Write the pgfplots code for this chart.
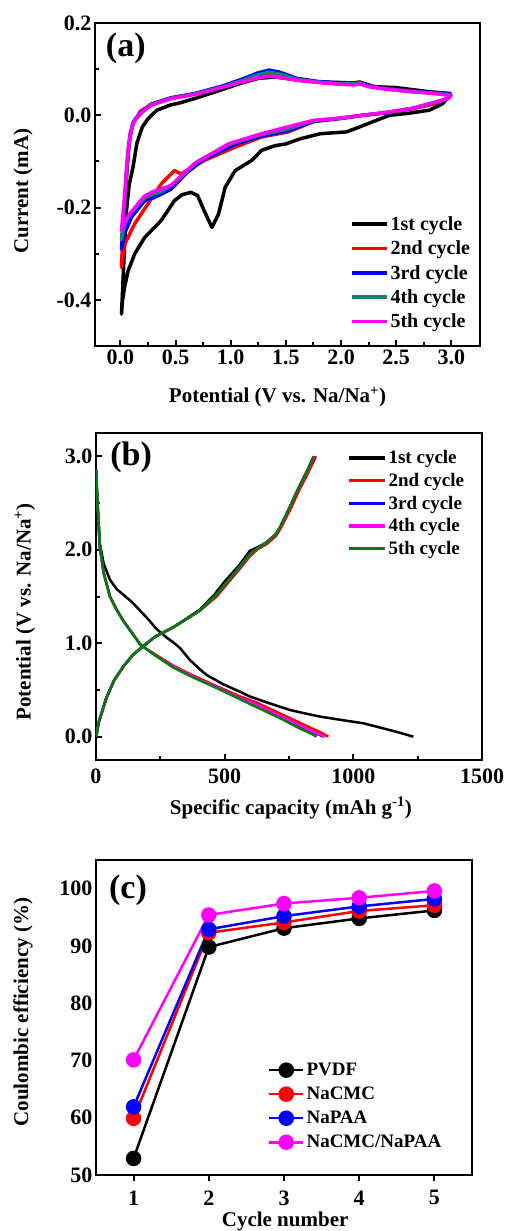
\documentclass[border=0pt]{standalone}
\usepackage{fontspec}
\setmainfont{Liberation Serif}
\usepackage{pgfplots}
\pgfplotsset{compat=1.18}

\definecolor{cteal}{RGB}{20,128,110}
\definecolor{cgreen}{RGB}{0,128,0}
\definecolor{cmag}{RGB}{255,0,255}

\pgfplotsset{
  common/.style={
    scale only axis,
    axis line style={line width=2.5pt},
    tick align=inside,
    tick pos=left,
    major tick length=6pt,
    minor tick length=4pt,
    every tick/.style={line width=2pt, black},
    /pgf/number format/assume math mode=true,
    tick label style={font=\bfseries\fontsize{22}{24}\selectfont},
    label style={font=\bfseries\fontsize{21}{24}\selectfont},
    legend cell align=left,
    legend style={draw=none, fill=none, font=\bfseries\fontsize{20}{22}\selectfont, inner sep=0pt},
  }
}

\begin{document}
\begin{tikzpicture}
\useasboundingbox (0,0) rectangle (505pt,-1231pt);

% ---------------- (a) ----------------
\begin{axis}[common,
  at={(95pt,-23pt)}, anchor=north west,
  width=385pt, height=323pt,
  xmin=-0.23, xmax=3.26, ymin=-0.5, ymax=0.2,
  xtick={0,0.5,...,3.0}, minor x tick num=1,
  ytick={-0.4,-0.2,0,0.2}, minor y tick num=1,
  xticklabel style={/pgf/number format/.cd, fixed, fixed zerofill, precision=1},
  yticklabel style={/pgf/number format/.cd, fixed, fixed zerofill, precision=1},
  xlabel={Potential (V vs. Na/Na\textsuperscript{+})},
  ylabel={Current (mA)},
  xlabel style={at={(axis description cs:0.474,-0.158)}, anchor=center},
  ylabel style={at={(axis description cs:-0.187,0.48)}, anchor=center},
  legend image code/.code={\draw[#1] (0pt,0pt) -- (35pt,0pt);},
  legend style={at={(rel axis cs:0.662,0.408)}, anchor=north west, row sep=5pt},
  every axis plot/.append style={line width=3.5pt, line join=round},
]
\addplot[black] coordinates {
(3.00,0.047) (2.92,0.025) (2.80,0.011) (2.60,0.004) (2.44,0.000) (2.32,-0.011)
(2.17,-0.025) (2.05,-0.036) (1.81,-0.040) (1.63,-0.051) (1.50,-0.062) (1.40,-0.066)
(1.28,-0.076) (1.19,-0.098) (1.04,-0.120) (0.95,-0.156) (0.89,-0.214) (0.83,-0.243)
(0.76,-0.207) (0.70,-0.174) (0.64,-0.167) (0.56,-0.172) (0.49,-0.185) (0.37,-0.228)
(0.22,-0.265) (0.13,-0.300) (0.07,-0.337) (0.04,-0.37) (0.02,-0.40) (0.01,-0.431)
(0.02,-0.38) (0.04,-0.27) (0.055,-0.207) (0.08,-0.15) (0.115,-0.112) (0.15,-0.06)
(0.20,-0.025) (0.25,-0.008) (0.33,0.011) (0.45,0.022) (0.54,0.027) (0.67,0.036)
(0.85,0.050) (0.975,0.060) (1.10,0.070) (1.25,0.080) (1.40,0.083) (1.50,0.080)
(1.65,0.075) (1.81,0.072) (2.00,0.071) (2.11,0.070) (2.17,0.072) (2.30,0.062)
(2.50,0.060) (2.80,0.051) (2.95,0.048) (3.00,0.047)};
\addlegendentry{1st cycle}
\addplot[red] coordinates {
(3.00,0.045) (2.95,0.035) (2.85,0.025) (2.65,0.014) (2.40,0.005) (2.20,0.000)
(2.00,-0.006) (1.75,-0.014) (1.52,-0.036) (1.28,-0.047) (1.04,-0.069) (0.76,-0.098)
(0.55,-0.127) (0.49,-0.120) (0.44,-0.132) (0.37,-0.149) (0.25,-0.192) (0.13,-0.235)
(0.04,-0.279) (0.01,-0.330)
(0.02,-0.27) (0.04,-0.20) (0.06,-0.12) (0.08,-0.06) (0.11,-0.02) (0.18,0.008)
(0.28,0.024) (0.45,0.037) (0.67,0.046) (0.92,0.061) (1.10,0.074) (1.25,0.085)
(1.35,0.090) (1.45,0.087) (1.60,0.078) (1.80,0.072) (2.00,0.069) (2.12,0.069)
(2.17,0.071) (2.25,0.064) (2.40,0.058) (2.65,0.052) (2.85,0.048) (3.00,0.045)};
\addlegendentry{2nd cycle}
\addplot[blue] coordinates {
(3.00,0.046) (2.96,0.036) (2.86,0.028) (2.65,0.015) (2.40,0.005) (2.20,0.000)
(2.00,-0.007) (1.75,-0.013) (1.52,-0.034) (1.28,-0.045) (1.04,-0.063) (0.76,-0.095)
(0.60,-0.125) (0.46,-0.160) (0.31,-0.178) (0.22,-0.185) (0.10,-0.221) (0.04,-0.255)
(0.01,-0.290)
(0.025,-0.24) (0.04,-0.19) (0.055,-0.13) (0.07,-0.08) (0.09,-0.04) (0.12,-0.013)
(0.19,0.007) (0.28,0.024) (0.46,0.038) (0.67,0.047) (0.92,0.063) (1.10,0.078)
(1.25,0.092) (1.35,0.098) (1.45,0.093) (1.60,0.080) (1.80,0.073) (2.00,0.070)
(2.12,0.070) (2.17,0.071) (2.25,0.064) (2.40,0.058) (2.65,0.052) (2.85,0.049) (3.00,0.046)};
\addlegendentry{3rd cycle}
\addplot[cteal] coordinates {
(3.00,0.044) (2.96,0.035) (2.86,0.028) (2.65,0.015) (2.40,0.006) (2.20,0.000)
(2.00,-0.006) (1.75,-0.012) (1.48,-0.032) (1.28,-0.042) (1.00,-0.062) (0.70,-0.100)
(0.50,-0.145) (0.38,-0.165) (0.28,-0.172) (0.22,-0.180) (0.12,-0.205) (0.06,-0.225)
(0.03,-0.245) (0.01,-0.270)
(0.025,-0.225) (0.04,-0.18) (0.055,-0.125) (0.07,-0.078) (0.09,-0.04) (0.12,-0.014)
(0.19,0.006) (0.28,0.023) (0.46,0.037) (0.67,0.046) (0.92,0.061) (1.10,0.075)
(1.25,0.088) (1.35,0.093) (1.45,0.089) (1.60,0.078) (1.80,0.072) (2.00,0.068)
(2.12,0.068) (2.17,0.070) (2.25,0.063) (2.40,0.057) (2.65,0.051) (2.85,0.048) (3.00,0.044)};
\addlegendentry{4th cycle}
\addplot[cmag] coordinates {
(3.00,0.042) (2.97,0.036) (2.86,0.029) (2.65,0.015) (2.40,0.006) (2.20,0.000)
(2.00,-0.006) (1.75,-0.011) (1.44,-0.030) (1.28,-0.040) (0.98,-0.062) (0.67,-0.105)
(0.46,-0.152) (0.37,-0.160) (0.30,-0.165) (0.22,-0.175) (0.15,-0.195) (0.08,-0.215)
(0.04,-0.230) (0.01,-0.250)
(0.025,-0.21) (0.04,-0.17) (0.055,-0.12) (0.07,-0.076) (0.09,-0.04) (0.12,-0.015)
(0.19,0.005) (0.28,0.022) (0.46,0.036) (0.67,0.045) (0.92,0.060) (1.10,0.072)
(1.25,0.081) (1.35,0.085) (1.45,0.082) (1.60,0.076) (1.80,0.071) (2.00,0.067)
(2.12,0.066) (2.17,0.068) (2.25,0.062) (2.40,0.057) (2.65,0.051) (2.85,0.047)
(2.95,0.044) (3.00,0.042)};
\addlegendentry{5th cycle}
\node[font=\bfseries\fontsize{34}{36}\selectfont] at (rel axis cs:0.08,0.923) {(a)};
\end{axis}

% ---------------- (b) ----------------
\begin{axis}[common,
  at={(96pt,-433pt)}, anchor=north west,
  width=386pt, height=327pt,
  xmin=0, xmax=1500, ymin=-0.25, ymax=3.25,
  xtick={0,500,1000,1500}, minor x tick num=1,
  ytick={0,1,2,3}, minor y tick num=1,
  xticklabel style={/pgf/number format/1000 sep={}, yshift=-5pt},
  yticklabel style={/pgf/number format/.cd, fixed, fixed zerofill, precision=1},
  xlabel={Specific capacity (mAh g\textsuperscript{-1})},
  ylabel={Potential (V vs. Na/Na\textsuperscript{+})},
  xlabel style={at={(axis description cs:0.505,-0.147)}, anchor=center},
  ylabel style={at={(axis description cs:-0.184,0.453)}, anchor=center},
  legend image code/.code={\draw[#1, line width=3.5pt] (0pt,0pt) -- (36pt,0pt);},
  legend style={at={(rel axis cs:0.65,0.953)}, anchor=north west, row sep=4pt, font=\bfseries\fontsize{19}{21}\selectfont},
  every axis plot/.append style={line width=2.5pt, line join=round},
]
\addplot[black] coordinates {
(0,2.86) (5,2.5) (15,2.07) (30,1.85) (54,1.68) (80,1.58) (106,1.52) (140,1.44)
(171,1.35) (205,1.25) (236,1.15) (275,1.06) (300,1.01) (326,0.95) (365,0.82)
(404,0.72) (430,0.66) (495,0.56) (560,0.48) (598,0.43) (660,0.37) (715,0.32)
(754,0.285) (810,0.25) (870,0.215) (950,0.18) (1039,0.143) (1100,0.10) (1170,0.05) (1233,0.0)};
\addlegendentry{1st cycle}
\addplot[black, forget plot] coordinates {
(0,0.0) (2,0.02) (10,0.15) (25,0.28) (41,0.42) (70,0.60) (106,0.75) (145,0.88)
(184,0.97) (230,1.07) (300,1.17) (404,1.36) (460,1.52) (500,1.66) (555,1.83)
(598,1.99) (630,2.03) (663,2.08) (700,2.17) (715,2.24) (754,2.46) (780,2.62)
(810,2.79) (850,3.0)};
\addplot[red] coordinates {
(0,2.86) (5,2.55) (15,2.03) (30,1.75) (54,1.50) (80,1.36) (106,1.24) (140,1.11)
(171,0.99) (200,0.93) (236,0.87) (300,0.76) (365,0.67) (469,0.54) (560,0.43)
(620,0.37) (690,0.28) (760,0.19) (830,0.10) (870,0.05) (903,0.0)};
\addlegendentry{2nd cycle}
\addplot[red, forget plot] coordinates {
(0,0.0) (2,0.02) (10,0.15) (25,0.28) (41,0.42) (70,0.60) (106,0.75) (145,0.88)
(184,0.97) (230,1.07) (300,1.17) (404,1.35) (469,1.50) (508,1.63) (560,1.80)
(598,1.93) (630,2.01) (663,2.06) (700,2.15) (720,2.24) (760,2.46) (790,2.64)
(820,2.80) (855,3.0)};
\addplot[blue] coordinates {
(0,2.86) (5,2.55) (15,2.03) (30,1.75) (54,1.50) (80,1.36) (106,1.24) (140,1.11)
(171,0.99) (200,0.93) (236,0.86) (300,0.75) (365,0.66) (469,0.53) (560,0.41)
(610,0.36) (675,0.27) (745,0.18) (810,0.09) (850,0.04) (885,0.0)};
\addlegendentry{3rd cycle}
\addplot[blue, forget plot] coordinates {
(0,0.0) (2,0.02) (10,0.15) (25,0.28) (41,0.42) (70,0.60) (106,0.75) (145,0.88)
(184,0.97) (230,1.07) (300,1.17) (404,1.35) (469,1.52) (508,1.65) (560,1.82)
(598,1.96) (630,2.02) (663,2.08) (700,2.17) (715,2.24) (754,2.46) (780,2.62)
(810,2.78) (848,3.0)};
\addplot[cmag] coordinates {
(0,2.86) (5,2.55) (15,2.03) (30,1.75) (54,1.50) (80,1.36) (106,1.24) (140,1.11)
(171,0.99) (200,0.93) (236,0.86) (300,0.75) (365,0.66) (469,0.53) (560,0.41)
(612,0.36) (678,0.27) (748,0.18) (815,0.09) (855,0.04) (890,0.0)};
\addlegendentry{4th cycle}
\addplot[cmag, forget plot] coordinates {
(0,0.0) (2,0.02) (10,0.15) (25,0.28) (41,0.42) (70,0.60) (106,0.75) (145,0.88)
(184,0.97) (230,1.07) (300,1.17) (404,1.35) (469,1.52) (508,1.65) (560,1.82)
(598,1.95) (630,2.02) (663,2.08) (700,2.17) (715,2.24) (754,2.46) (780,2.62)
(810,2.78) (847,3.0)};
\addplot[cgreen] coordinates {
(0,2.86) (5,2.55) (15,2.03) (30,1.75) (54,1.50) (80,1.36) (106,1.24) (140,1.11)
(171,0.99) (200,0.93) (236,0.86) (300,0.74) (365,0.65) (469,0.52) (560,0.40)
(598,0.35) (660,0.27) (728,0.18) (790,0.09) (830,0.04) (857,0.0)};
\addlegendentry{5th cycle}
\addplot[cgreen, forget plot] coordinates {
(0,0.0) (2,0.02) (10,0.15) (25,0.28) (41,0.42) (70,0.60) (106,0.75) (145,0.88)
(184,0.97) (230,1.07) (300,1.17) (404,1.35) (469,1.52) (508,1.65) (560,1.82)
(598,1.95) (630,2.02) (663,2.08) (700,2.17) (715,2.24) (754,2.46) (780,2.62)
(810,2.78) (845,3.0)};
\node[font=\bfseries\fontsize{34}{36}\selectfont] at (rel axis cs:0.091,0.927) {(b)};
\end{axis}

% ---------------- (c) ----------------
\begin{axis}[common,
  at={(96pt,-860pt)}, anchor=north west,
  width=376pt, height=315pt,
  xmin=0.5, xmax=5.5, ymin=50, ymax=105,
  xtick={1,2,3,4,5}, ytick={50,60,70,80,90,100},
  xtick align=outside,
  ytick style={draw=none},
  xticklabel style={yshift=-6pt},
  xlabel={Cycle number},
  ylabel={Coulombic efficiency (\%)},
  xlabel style={at={(axis description cs:0.503,-0.149)}, anchor=center},
  ylabel style={at={(axis description cs:-0.194,0.517)}, anchor=center},
  legend image code/.code={\draw[mark repeat=2,mark phase=2,#1] plot coordinates {(0pt,0pt) (17pt,0pt) (34pt,0pt)};},
  legend style={at={(rel axis cs:0.457,0.362)}, anchor=north west, row sep=6pt, font=\bfseries\fontsize{19}{21}\selectfont},
  every axis plot/.append style={line width=2.5pt, mark=*, mark size=6.5pt},
]
\addplot[black, mark options={fill=black}] coordinates {(1,52.9) (2,89.8) (3,93.1) (4,94.8) (5,96.2)};
\addlegendentry{PVDF}
\addplot[red, mark options={fill=red}] coordinates {(1,59.9) (2,92.3) (3,94.1) (4,96.1) (5,97.1)};
\addlegendentry{NaCMC}
\addplot[blue, mark options={fill=blue}] coordinates {(1,61.9) (2,92.9) (3,95.2) (4,96.9) (5,98.2)};
\addlegendentry{NaPAA}
\addplot[cmag, mark options={fill=cmag}] coordinates {(1,70.1) (2,95.4) (3,97.4) (4,98.4) (5,99.6)};
\addlegendentry{NaCMC/NaPAA}
\node[font=\bfseries\fontsize{34}{36}\selectfont] at (rel axis cs:0.085,0.905) {(c)};
\end{axis}
\end{tikzpicture}
\end{document}
